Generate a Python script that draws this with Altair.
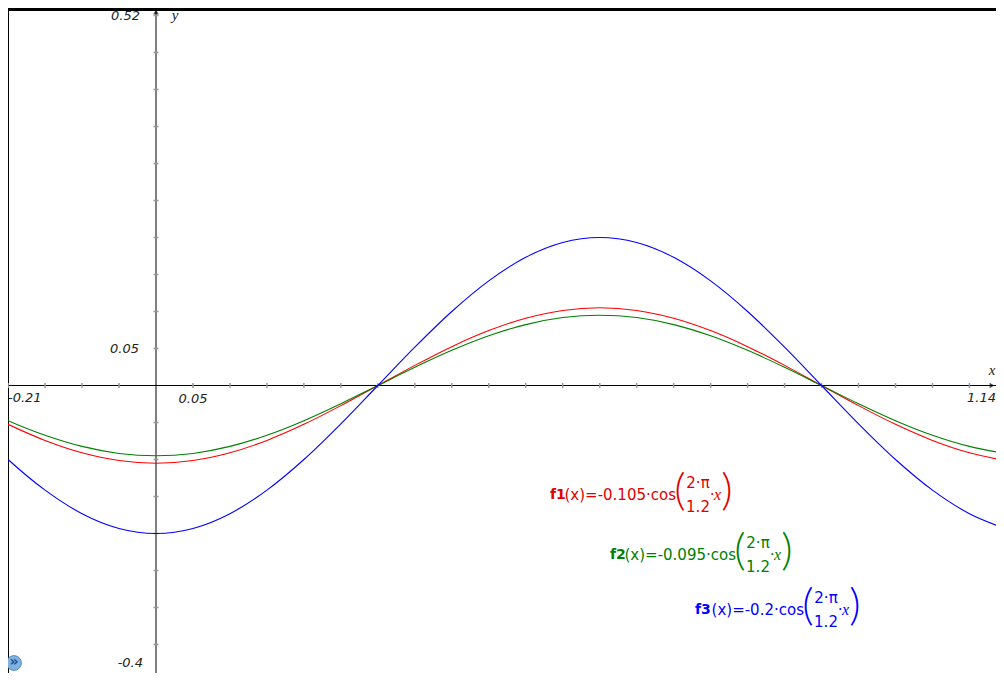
import altair as alt
import pandas as pd

# ---------------- data ----------------
x_vals = [-0.21, -0.20, -0.15, -0.10, -0.05, 0.00, 0.05, 0.10, 0.15, 0.20,
          0.25, 0.30, 0.35, 0.40, 0.45, 0.50, 0.55, 0.60, 0.65, 0.70,
          0.75, 0.80, 0.85, 0.90, 0.95, 1.00, 1.05, 1.10, 1.14]
f1_vals = [-0.0477, -0.0525, -0.0742, -0.0909, -0.1014, -0.1050, -0.1014, -0.0909, -0.0742, -0.0525,
           -0.0272, 0.0000, 0.0272, 0.0525, 0.0742, 0.0909, 0.1014, 0.1050, 0.1014, 0.0909,
           0.0742, 0.0525, 0.0272, 0.0000, -0.0272, -0.0525, -0.0742, -0.0909, -0.0999]
f2_vals = [-0.0431, -0.0475, -0.0672, -0.0823, -0.0918, -0.0950, -0.0918, -0.0823, -0.0672, -0.0475,
           -0.0246, 0.0000, 0.0246, 0.0475, 0.0672, 0.0823, 0.0918, 0.0950, 0.0918, 0.0823,
           0.0672, 0.0475, 0.0246, 0.0000, -0.0246, -0.0475, -0.0672, -0.0823, -0.0904]
f3_vals = [-0.0908, -0.1000, -0.1414, -0.1732, -0.1932, -0.2000, -0.1932, -0.1732, -0.1414, -0.1000,
           -0.0518, 0.0000, 0.0518, 0.1000, 0.1414, 0.1732, 0.1932, 0.2000, 0.1932, 0.1732,
           0.1414, 0.1000, 0.0518, 0.0000, -0.0518, -0.1000, -0.1414, -0.1732, -0.1902]

series_names = ["f1", "f2", "f3"]
series_colors = ["#ff0000", "#008000", "#0000ff"]
text_colors = ["#e00000", "#008000", "#0000ff"]
coef_labels = ["-0.105", "-0.095", "-0.2"]

x_ticks = [-0.20, -0.15, -0.10, -0.05, 0.05, 0.10, 0.15, 0.20, 0.25, 0.30, 0.35,
           0.40, 0.45, 0.50, 0.55, 0.60, 0.65, 0.70, 0.75, 0.80, 0.85, 0.90,
           0.95, 1.00, 1.05, 1.10]
y_ticks = [0.50, 0.45, 0.40, 0.35, 0.30, 0.25, 0.20, 0.15, 0.10, 0.05,
           -0.05, -0.10, -0.15, -0.20, -0.25, -0.30, -0.35]

window_labels = {"xmin": "-0.21", "xmax": "1.14", "ymax": "0.52", "ymin": "-0.4"}

# ---------------- layout ----------------
W, H = 988, 665
X_DOMAIN = [-0.20014, 1.13590]
Y_DOMAIN = [-0.38851, 0.51014]
xs = alt.Scale(domain=X_DOMAIN, nice=False, zero=False)
ys = alt.Scale(domain=Y_DOMAIN, nice=False, zero=False)
TICK_HALF = 0.0034

one = pd.DataFrame({"v": [0.0]})

rows = []
for name, vals in zip(series_names, [f1_vals, f2_vals, f3_vals]):
    for xv, yv in zip(x_vals, vals):
        rows.append({"x": xv, "y": yv, "s": name})
curves_df = pd.DataFrame(rows)

x_axis = alt.Chart(one).mark_rule(color="black", strokeWidth=1).encode(
    y=alt.Y("v:Q", scale=ys, axis=None))
y_axis = alt.Chart(one).mark_rule(color="black", strokeWidth=1).encode(
    x=alt.X("v:Q", scale=xs, axis=None))

xt_df = pd.DataFrame({"t": x_ticks, "a": [TICK_HALF] * len(x_ticks), "b": [-TICK_HALF] * len(x_ticks)})
yt_df = pd.DataFrame({"t": y_ticks, "a": [TICK_HALF] * len(y_ticks), "b": [-TICK_HALF] * len(y_ticks)})

xt = alt.Chart(xt_df).mark_rule(color="#999999", strokeWidth=1.5).encode(
    x=alt.X("t:Q", scale=xs, axis=None),
    y=alt.Y("a:Q", scale=ys, axis=None), y2="b:Q")
yt = alt.Chart(yt_df).mark_rule(color="#999999", strokeWidth=1.5).encode(
    y=alt.Y("t:Q", scale=ys, axis=None),
    x=alt.X("a:Q", scale=xs, axis=None), x2="b:Q")

curves = alt.Chart(curves_df).mark_line(clip=True, strokeWidth=1.1, interpolate="monotone").encode(
    x=alt.X("x:Q", scale=xs, axis=None),
    y=alt.Y("y:Q", scale=ys, axis=None),
    color=alt.Color("s:N", scale=alt.Scale(domain=series_names, range=series_colors), legend=None))

tick_font = dict(font="DejaVu Sans", fontStyle="italic", fontSize=13, color="#222222", baseline="middle")


def lab(text, px, py, align, **kw):
    style = dict(tick_font)
    style.update(kw)
    return alt.Chart(one).mark_text(text=text, align=align, **style).encode(
        x=alt.value(px), y=alt.value(py))


lab_df = pd.DataFrame({"x0": [0.0], "y05": [0.05], "x05": [0.05], "y0": [0.0]})

labels = [
    lab(window_labels["ymax"], 132, 8, "right"),
    lab(window_labels["ymin"], 135, 655, "right"),
    lab(window_labels["xmin"], 0, 390, "left"),
    lab(window_labels["xmax"], 988, 390, "right"),
    lab("y", 167, 7, "center", font="Liberation Serif", fontSize=15),
    lab("x", 984, 362, "center", font="Liberation Serif", fontSize=15),
    alt.Chart(lab_df).mark_text(text="0.05", align="right", dx=-17, **tick_font).encode(
        x=alt.X("x0:Q", scale=xs, axis=None), y=alt.Y("y05:Q", scale=ys, axis=None)),
    alt.Chart(lab_df).mark_text(text="0.05", align="center", dy=13, **tick_font).encode(
        x=alt.X("x05:Q", scale=xs, axis=None), y=alt.Y("y0:Q", scale=ys, axis=None)),
]

arrows = [
    alt.Chart(lab_df).mark_point(shape="triangle-up", filled=True, color="black", size=30).encode(
        x=alt.X("x0:Q", scale=xs, axis=None), y=alt.value(4)),
    alt.Chart(lab_df).mark_point(shape="triangle-right", filled=True, color="black", size=30).encode(
        x=alt.value(984), y=alt.Y("y0:Q", scale=ys, axis=None)),
]

frame = [
    alt.Chart(one).mark_rule(color="black", strokeWidth=4).encode(
        x=alt.value(0), x2=alt.value(W), y=alt.value(1)),
]

# formula annotations (chart pixel coordinates)
formula_pos = [(542, 487, 130), (602, 547, 130), (687, 602, 113)]


def formula(i):
    x0, yc, poff = formula_pos[i]
    col = text_colors[i]
    P = x0 + poff
    base = dict(color=col, baseline="middle")
    parts = [
        alt.Chart(one).mark_text(text=series_names[i], align="left", font="DejaVu Sans",
                                 fontWeight="bold", fontSize=14, **base).encode(
            x=alt.value(x0), y=alt.value(yc)),
        alt.Chart(one).mark_text(text="(x)=" + coef_labels[i] + "·cos", align="right",
                                 font="DejaVu Sans", fontSize=15, **base).encode(
            x=alt.value(P - 4), y=alt.value(yc)),
        alt.Chart(one).mark_text(text="(", align="center", font="Lato", fontWeight=300,
                                 fontSize=44, **base).encode(
            x=alt.value(P), y=alt.value(yc - 3)),
        alt.Chart(one).mark_text(text="2·π", align="center", font="DejaVu Sans",
                                 fontSize=15, **base).encode(
            x=alt.value(P + 18), y=alt.value(yc - 12)),
        alt.Chart(one).mark_text(text="1.2", align="center", font="DejaVu Sans",
                                 fontSize=15, **base).encode(
            x=alt.value(P + 18), y=alt.value(yc + 12)),
        alt.Chart(one).mark_text(text="·x", align="left", font="Liberation Serif",
                                 fontStyle="italic", fontSize=16, **base).encode(
            x=alt.value(P + 30), y=alt.value(yc)),
        alt.Chart(one).mark_text(text=")", align="center", font="Lato", fontWeight=300,
                                 fontSize=44, **base).encode(
            x=alt.value(P + 47), y=alt.value(yc - 3)),
    ]
    return parts


formulas = formula(0) + formula(1) + formula(2)

button = [
    alt.Chart(one).mark_point(shape="circle", filled=True, fill="#7fb2e0", stroke="#5a8fc2",
                              strokeWidth=1, size=220, opacity=1).encode(
        x=alt.value(6), y=alt.value(655)),
    alt.Chart(one).mark_text(text="»", align="center", baseline="middle", fontSize=14,
                             fontWeight="bold", color="#1f4f8f", font="DejaVu Sans").encode(
        x=alt.value(6), y=alt.value(654)),
]

chart = alt.layer(
    x_axis, y_axis, xt, yt, curves, *labels, *arrows, *frame, *formulas, *button
).properties(
    width=W, height=H, padding=0, autosize=alt.AutoSizeParams(type="none")
).configure_view(stroke="black", strokeWidth=1)

chart.save("out.html", embed_options={"renderer": "svg", "actions": False})
